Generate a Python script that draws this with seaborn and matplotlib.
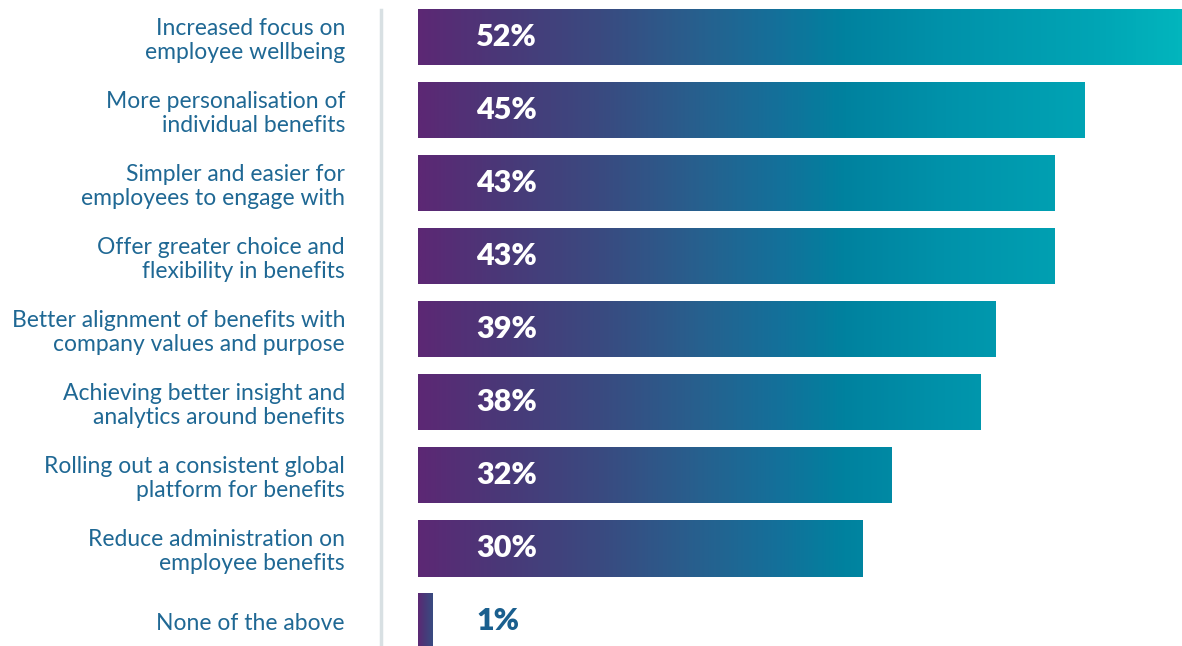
import numpy as np
import pandas as pd
import matplotlib
matplotlib.use("Agg")
import matplotlib.pyplot as plt
from matplotlib.colors import LinearSegmentedColormap
import seaborn as sns

categories = [
    "Increased focus on\nemployee wellbeing",
    "More personalisation of\nindividual benefits",
    "Simpler and easier for\nemployees to engage with",
    "Offer greater choice and\nflexibility in benefits",
    "Better alignment of benefits with\ncompany values and purpose",
    "Achieving better insight and\nanalytics around benefits",
    "Rolling out a consistent global\nplatform for benefits",
    "Reduce administration on\nemployee benefits",
    "None of the above",
]
values = [52, 45, 43, 43, 39, 38, 32, 30, 1]
value_labels = ["52%", "45%", "43%", "43%", "39%", "38%", "32%", "30%", "1%"]

df = pd.DataFrame({"category": categories, "value": values})

sns.set_theme(style="white")
plt.rcParams["font.family"] = ["Lato", "DejaVu Sans"]

LABEL_COLOR = "#1f6894"
grad = LinearSegmentedColormap.from_list(
    "pt", [(0.0, "#5c2874"), (0.105, "#4a3878"), (0.236, "#3a4a80"),
           (0.367, "#27608e"), (0.47, "#14709a"), (0.56, "#00829f"),
           (0.69, "#0092aa"), (0.89, "#00a5b5"), (1.0, "#02b5bd")])

fig = plt.figure(figsize=(11.82, 6.46), dpi=100)
ax = fig.add_axes([418 / 1182, 0, 764 / 1182, 1])

sns.barplot(data=df, x="value", y="category", orient="h", ax=ax,
            width=0.78, color="#5c2874", saturation=1)

ax.set_xlim(0, 51.6)
ax.set_ylim(8.342, -0.507)

xmax = ax.get_xlim()[1]
for patch in ax.patches:
    x0, y0 = patch.get_x(), patch.get_y()
    w, h = patch.get_width(), patch.get_height()
    frac = max(w / xmax, 0.25)
    img = np.linspace(0, frac, 256).reshape(1, -1)
    im = ax.imshow(img, cmap=grad, vmin=0, vmax=1, aspect="auto",
                   extent=(x0, x0 + w, y0 + h, y0), zorder=2,
                   interpolation="bilinear")
    im.set_clip_path(patch)
    patch.set_facecolor("none")
    patch.set_edgecolor("none")

for i, (v, lab) in enumerate(zip(values, value_labels)):
    inside = v > 5
    ax.annotate(lab, xy=(0, i), xytext=(58 * 0.72, 0), textcoords="offset points",
                ha="left", va="center", fontsize=22, fontweight="heavy",
                color="white" if inside else "#1a5f8e", zorder=5)

ax.set_xlabel("")
ax.set_ylabel("")
ax.set_xticks([])
ax.tick_params(axis="y", length=0, pad=36 * 0.72, labelsize=16.5, labelcolor=LABEL_COLOR)
for t in ax.get_yticklabels():
    t.set_linespacing(1.1)
    t.set_ha("right")

for s in ["top", "right", "bottom"]:
    ax.spines[s].set_visible(False)
ax.spines["left"].set_position(("outward", 37 * 0.72))
ax.spines["left"].set_color("#d8e0e3")
ax.spines["left"].set_linewidth(2.5)
ax.spines["left"].set_bounds(8.342, -0.37)

fig.savefig("out.png", dpi=100, facecolor="white")
